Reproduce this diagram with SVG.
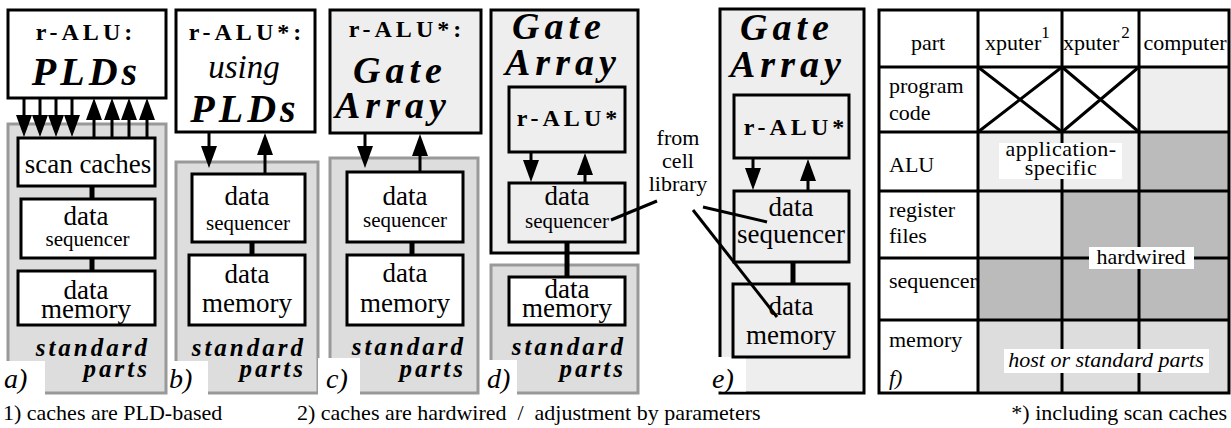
<svg xmlns="http://www.w3.org/2000/svg" width="1231" height="428" viewBox="0 0 1231 428" font-family="'Liberation Serif', 'DejaVu Serif', serif">
<style>
text { font-family: 'Liberation Serif', 'DejaVu Serif', serif; fill: #000; }
.box { fill: #fff; stroke: #000; stroke-width: 3; }
.lbox { fill: #eee; stroke: #000; stroke-width: 3; }
.gbox { fill: #ddd; stroke: #999; stroke-width: 3; }
.cut { fill: #fff; stroke: none; }
.title { font-weight: bold; font-size: 24px; letter-spacing: 4px; text-anchor: middle; }
.big { font-weight: bold; font-style: italic; font-size: 40px; letter-spacing: 4px; text-anchor: middle; }
.ga { font-weight: bold; font-style: italic; font-size: 38px; letter-spacing: 5px; }
.body { font-size: 27px; text-anchor: middle; }
.seq { font-size: 21px; text-anchor: middle; }
.std { font-weight: bold; font-style: italic; font-size: 25px; letter-spacing: 3px; text-anchor: end; }
.lbl { font-style: italic; font-size: 28px; }
.tab { font-size: 22px; }
.mid { text-anchor: middle; }
.sup { font-size: 17px; }
.foot { font-size: 22px; }
.stem { stroke: #000; stroke-width: 3; fill: none; }
.link { stroke: #000; stroke-width: 5; fill: none; }
.grid { stroke: #000; stroke-width: 3; fill: none; }
.c-l { fill: #eee; }
.c-d { fill: #bbb; }
.c-m { fill: #ddd; }
</style>
<defs>
<marker id="arr" viewBox="0 0 22 16" refX="12" refY="8" markerWidth="22" markerHeight="16" markerUnits="userSpaceOnUse" orient="auto">
<path d="M0,0 L22,8 L0,16 z" fill="#000"/>
</marker>
</defs>

<!-- Panel a -->
<g id="a-alu">
<rect class="box" x="8" y="10" width="158" height="88"/>
<text class="title" x="86" y="40">r-ALU:</text>
<text class="big" x="86.5" y="85">PLDs</text>
</g>
<g id="a-std">
<rect class="gbox" x="8" y="124" width="158" height="269"/>
<rect class="cut" x="0" y="361" width="45" height="36"/>
<text class="std" x="150" y="356">standard</text>
<text class="std" x="150" y="377">parts</text>
<text class="lbl" x="4" y="388">a)</text>
</g>
<g id="a-scan">
<rect class="box" x="18" y="138" width="137" height="48"/>
<text class="body" x="88" y="173">scan caches</text>
</g>
<g id="a-seq">
<rect class="box" x="21" y="199" width="134" height="59"/>
<text class="body" x="86" y="225">data</text>
<text class="seq" x="87.5" y="246">sequencer</text>
</g>
<g id="a-mem">
<rect class="box" x="18" y="271" width="137" height="54"/>
<text class="body" x="86" y="299">data</text>
<text class="body" x="86" y="318">memory</text>
</g>

<!-- Panel b -->
<g id="b-alu">
<rect class="box" x="176" y="10" width="139" height="122"/>
<text class="title" x="247" y="40">r-ALU*:</text>
<text x="244" y="78" style="font-style:italic;font-size:33px;text-anchor:middle">using</text>
<text class="big" x="245" y="122">PLDs</text>
</g>
<g id="b-std">
<rect class="gbox" x="176" y="162" width="142" height="231"/>
<rect class="cut" x="168" y="361" width="40" height="36"/>
<text class="std" x="306" y="356">standard</text>
<text class="std" x="306" y="377">parts</text>
<text class="lbl" x="169" y="388">b)</text>
</g>
<g id="b-seq">
<rect class="box" x="192" y="174" width="113" height="68"/>
<text class="body" x="247" y="205">data</text>
<text class="seq" x="248" y="230">sequencer</text>
</g>
<g id="b-mem">
<rect class="box" x="189" y="255" width="116" height="70"/>
<text class="body" x="247" y="283">data</text>
<text class="body" x="247" y="312">memory</text>
</g>

<!-- Panel c -->
<g id="c-alu">
<rect class="lbox" x="330" y="10" width="151" height="123"/>
<text class="title" x="407" y="37">r-ALU*:</text>
<text class="ga" x="353" y="83">Gate</text>
<text class="ga" x="335" y="118">Array</text>
</g>
<g id="c-std">
<rect class="gbox" x="330" y="158" width="148" height="235"/>
<rect class="cut" x="318" y="358" width="42" height="39"/>
<text class="std" x="466" y="355">standard</text>
<text class="std" x="466" y="377">parts</text>
<text class="lbl" x="326" y="388">c)</text>
</g>
<g id="c-seq">
<rect class="box" x="347" y="172" width="116" height="70"/>
<text class="body" x="405" y="205">data</text>
<text class="seq" x="405" y="227">sequencer</text>
</g>
<g id="c-mem">
<rect class="box" x="347" y="255" width="116" height="70"/>
<text class="body" x="405" y="282">data</text>
<text class="body" x="405" y="312">memory</text>
</g>

<!-- Panel d -->
<g id="d-ga">
<rect class="lbox" x="491" y="10" width="147" height="243"/>
<text class="ga" x="512" y="39">Gate</text>
<text class="ga" x="505" y="75">Array</text>
</g>
<g id="d-alu">
<rect class="lbox" x="509" y="87" width="116" height="65"/>
<text class="title" x="569" y="126">r-ALU*</text>
</g>
<g id="d-seq">
<rect class="lbox" x="509" y="183" width="116" height="59"/>
<text class="body" x="567" y="205">data</text>
<text class="seq" x="567" y="228">sequencer</text>
</g>
<g id="d-std">
<rect class="gbox" x="491" y="265" width="147" height="128"/>
<rect class="cut" x="483" y="360" width="34" height="37"/>
<text class="std" x="626" y="355">standard</text>
<text class="std" x="626" y="377">parts</text>
<text class="lbl" x="487" y="388">d)</text>
</g>
<g id="d-mem">
<rect class="box" x="509" y="277" width="116" height="48"/>
<text class="body" x="567" y="298">data</text>
<text class="body" x="567" y="317">memory</text>
</g>

<!-- from cell library -->
<g id="cell-library">
<text class="tab mid" x="678" y="145">from</text>
<text class="tab mid" x="678" y="168">cell</text>
<text class="tab mid" x="678" y="191">library</text>
</g>

<!-- Panel e -->
<g id="e-ga">
<rect class="lbox" x="720" y="9" width="144" height="384"/>
<rect class="cut" x="718" y="357" width="28" height="34.5"/>
<text class="ga" x="740" y="40">Gate</text>
<text class="ga" x="730" y="77">Array</text>
<text class="lbl" x="712" y="388">e)</text>
</g>
<g id="e-alu">
<rect class="lbox" x="734" y="95" width="115" height="63"/>
<text class="title" x="796" y="135">r-ALU*</text>
</g>
<g id="e-seq">
<rect class="lbox" x="734" y="191" width="115" height="71"/>
<text class="body" x="791" y="216">data</text>
<text class="body" x="791" y="243">sequencer</text>
</g>
<g id="e-mem">
<rect class="lbox" x="733" y="284" width="116" height="73"/>
<text class="body" x="791" y="315">data</text>
<text class="body" x="791" y="344">memory</text>
</g>

<!-- Connectors -->
<g id="connectors">
<line class="stem" x1="24" y1="98" x2="24" y2="127" marker-end="url(#arr)"/>
<line class="stem" x1="40" y1="98" x2="40" y2="127" marker-end="url(#arr)"/>
<line class="stem" x1="56" y1="98" x2="56" y2="127" marker-end="url(#arr)"/>
<line class="stem" x1="72" y1="98" x2="72" y2="127" marker-end="url(#arr)"/>
<line class="stem" x1="94" y1="138" x2="94" y2="108" marker-end="url(#arr)"/>
<line class="stem" x1="112" y1="138" x2="112" y2="108" marker-end="url(#arr)"/>
<line class="stem" x1="129" y1="138" x2="129" y2="108" marker-end="url(#arr)"/>
<line class="stem" x1="147" y1="138" x2="147" y2="108" marker-end="url(#arr)"/>
<line class="link" x1="92" y1="186" x2="92" y2="199"/>
<line class="link" x1="92" y1="258" x2="92" y2="271"/>

<line class="stem" x1="209" y1="132" x2="209" y2="158" marker-end="url(#arr)"/>
<line class="stem" x1="265" y1="174" x2="265" y2="143" marker-end="url(#arr)"/>
<line class="link" x1="252" y1="242" x2="252" y2="255"/>

<line class="stem" x1="365" y1="133" x2="365" y2="158" marker-end="url(#arr)"/>
<line class="stem" x1="420" y1="172" x2="420" y2="144" marker-end="url(#arr)"/>
<line class="link" x1="412" y1="242" x2="412" y2="255"/>

<line class="stem" x1="531" y1="152" x2="531" y2="172" marker-end="url(#arr)"/>
<line class="stem" x1="585" y1="183" x2="585" y2="163" marker-end="url(#arr)"/>
<line class="link" x1="567" y1="242" x2="567" y2="277"/>

<line class="stem" x1="753" y1="158" x2="753" y2="180" marker-end="url(#arr)"/>
<line class="stem" x1="808" y1="191" x2="808" y2="169" marker-end="url(#arr)"/>
<line class="link" x1="793" y1="262" x2="793" y2="284"/>

<line class="stem" x1="611" y1="220" x2="657" y2="201"/>
<line class="stem" x1="703" y1="207" x2="767" y2="222"/>
<line class="stem" x1="693" y1="210" x2="777" y2="317"/>
</g>

<!-- Panel f: table -->
<g id="f-table">
<rect class="c-l" x="1139" y="67" width="90" height="65"/>
<rect class="c-l" x="978" y="132" width="161" height="59"/>
<rect class="c-d" x="1139" y="132" width="90" height="59"/>
<rect class="c-l" x="978" y="191" width="84" height="67"/>
<rect class="c-d" x="1062" y="191" width="167" height="67"/>
<rect class="c-d" x="978" y="258" width="251" height="62"/>
<rect class="c-m" x="978" y="320" width="251" height="73"/>
<path class="grid" d="M978,10 V393 M1062,10 V393 M1139,10 V393 M879,67 H1229 M879,132 H1229 M879,191 H1229 M879,258 H1229 M879,320 H1229"/>
<path class="grid" d="M978,67 L1062,132 M1062,67 L978,132 M1062,67 L1139,132 M1139,67 L1062,132"/>
<rect x="879" y="10" width="350" height="383" fill="none" stroke="#000" stroke-width="3"/>
<rect class="cut" x="999" y="143" width="123" height="36"/>
<rect class="cut" x="1089" y="247" width="105" height="22"/>
<rect class="cut" x="1004" y="349" width="205" height="24"/>
<text class="tab mid" x="928" y="50">part</text>
<text class="tab" x="985" y="50">xputer<tspan class="sup" dy="-12">1</tspan></text>
<text class="tab" x="1063" y="50">xputer<tspan class="sup" dx="2" dy="-12">2</tspan></text>
<text class="tab mid" x="1185" y="50">computer</text>
<text class="tab" x="889" y="93">program</text>
<text class="tab" x="889" y="120">code</text>
<text class="tab" x="889" y="172">ALU</text>
<text class="tab" x="889" y="217">register</text>
<text class="tab" x="889" y="243">files</text>
<text class="tab" x="889" y="288">sequencer</text>
<text class="tab" x="889" y="347">memory</text>
<text class="tab" x="889" y="385" style="font-style:italic">f)</text>
<text class="tab mid" x="1061" y="156" style="letter-spacing:0.5px">application-</text>
<text class="tab mid" x="1061" y="175" style="letter-spacing:0.5px">specific</text>
<text class="tab mid" x="1141" y="264">hardwired</text>
<text class="tab mid" x="1106" y="367" style="font-style:italic">host or standard parts</text>
</g>

<!-- Footnotes -->
<text class="foot" x="3" y="420">1) caches are PLD-based</text>
<text class="foot" x="297" y="420">2) caches are hardwired&#160; /&#160; adjustment by parameters</text>
<text class="foot" x="1227" y="420" style="text-anchor:end">*) including scan caches</text>
</svg>
